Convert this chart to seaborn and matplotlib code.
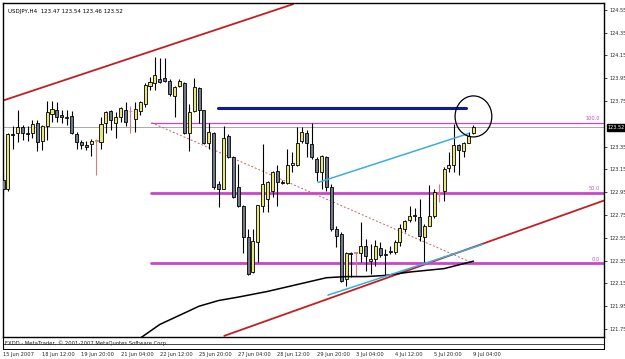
import matplotlib
matplotlib.use("Agg")
import matplotlib.pyplot as plt
from matplotlib.patches import Ellipse
from matplotlib.lines import Line2D
import seaborn as sns
import numpy as np
import pandas as pd

# ---------------- data (USDJPY H4 candles) ----------------
opens = [123.06, 122.975, 123.46, 123.47, 123.52, 123.47, 123.47, 123.56, 123.40, 123.53,
         123.64, 123.67, 123.63, 123.60, 123.62, 123.46, 123.39, 123.36, 123.37, 123.40,
         123.39, 123.56, 123.66, 123.56, 123.61, 123.675, 123.66, 123.59, 123.66, 123.72,
         123.88, 123.91, 123.94, 123.95, 123.93, 123.79, 123.88, 123.91, 123.47, 123.66,
         123.86, 123.67, 123.38, 123.47, 123.02, 122.98, 123.44, 123.255, 123.00, 122.825,
         122.56, 122.25, 122.51, 122.825, 122.89, 122.96, 123.14, 123.04, 123.035, 123.19,
         123.19, 123.40, 123.47, 123.37, 123.24, 123.125, 123.255, 123.00, 122.625, 122.58,
         122.19, 122.415, 122.42, 122.42, 122.475, 122.345, 122.36, 122.465, 122.40, 122.43,
         122.425, 122.51, 122.625, 122.71, 122.745, 122.73, 122.555, 122.65, 122.74, 122.95,
         122.96, 123.16, 123.185, 123.36, 123.31, 123.385, 123.47]
highs = [123.11, 123.47, 123.53, 123.67, 123.54, 123.53, 123.58, 123.58, 123.54, 123.75,
         123.75, 123.74, 123.67, 123.67, 123.66, 123.48, 123.41, 123.40, 123.42, 123.42,
         123.61, 123.66, 123.675, 123.65, 123.70, 123.74, 123.71, 123.74, 123.75, 123.91,
         123.96, 124.14, 124.13, 124.13, 123.94, 123.88, 123.94, 123.92, 123.72, 123.95,
         123.87, 123.675, 123.56, 123.48, 123.045, 123.53, 123.46, 123.27, 123.20, 122.84,
         122.625, 122.625, 122.84, 123.37, 123.045, 123.14, 123.19, 123.055, 123.325, 123.30,
         123.525, 123.52, 123.50, 123.56, 123.255, 123.28, 123.265, 123.02, 122.65, 122.60,
         122.43, 122.43, 122.43, 122.685, 122.54, 122.50, 122.53, 122.51, 122.45, 122.475,
         122.53, 122.675, 122.71, 122.825, 122.81, 122.89, 122.675, 123.01, 122.975, 123.02,
         123.17, 123.30, 123.55, 123.37, 123.395, 123.48, 123.54]
lows = [122.93, 122.96, 123.33, 123.395, 123.41, 123.40, 123.43, 123.31, 123.32, 123.41,
        123.57, 123.57, 123.56, 123.54, 123.46, 123.33, 123.33, 123.32, 123.27, 123.10,
        123.325, 123.47, 123.50, 123.43, 123.57, 123.53, 123.47, 123.48, 123.63, 123.70,
        123.85, 123.85, 123.91, 123.92, 123.79, 123.61, 123.87, 123.46, 123.31, 123.65,
        123.56, 123.37, 123.325, 122.975, 122.82, 122.975, 123.25, 122.90, 122.82, 122.415,
        122.225, 122.24, 122.34, 122.78, 122.78, 122.91, 122.825, 123.02, 123.02, 123.125,
        123.18, 123.38, 123.255, 123.245, 123.045, 122.975, 122.96, 122.61, 122.47, 122.16,
        122.125, 122.21, 122.21, 122.335, 122.255, 122.23, 122.30, 122.38, 122.22, 122.405,
        122.405, 122.475, 122.60, 122.685, 122.695, 122.52, 122.335, 122.65, 122.72, 122.86,
        122.87, 123.125, 123.125, 123.105, 123.26, 123.38, 123.46]
closes = [122.975, 123.465, 123.45, 123.525, 123.47, 123.465, 123.55, 123.39, 123.53, 123.65,
          123.68, 123.61, 123.61, 123.61, 123.47, 123.39, 123.36, 123.35, 123.40, 123.40,
          123.55, 123.65, 123.58, 123.61, 123.69, 123.57, 123.66, 123.68, 123.74, 123.89,
          123.92, 123.98, 123.92, 123.93, 123.81, 123.87, 123.93, 123.47, 123.65, 123.87,
          123.67, 123.38, 123.48, 123.00, 122.975, 123.43, 123.26, 122.905, 122.825, 122.56,
          122.23, 122.52, 122.835, 123.02, 123.04, 123.13, 123.04, 123.035, 123.185, 123.21,
          123.385, 123.48, 123.385, 123.255, 123.13, 123.265, 123.00, 122.625, 122.565, 122.17,
          122.42, 122.41, 122.42, 122.475, 122.39, 122.36, 122.475, 122.40, 122.41, 122.435,
          122.51, 122.64, 122.70, 122.74, 122.75, 122.565, 122.65, 122.745, 122.95, 122.95,
          123.15, 123.185, 123.36, 123.32, 123.385, 123.44, 123.52]

# moving average (read at selected bars)
ma_bars = [28, 32, 36, 40, 44, 48, 54, 60, 66, 70, 74, 78, 83, 90, 96]
ma_vals = [121.67, 121.79, 121.87, 121.95, 122.00, 122.03, 122.08, 122.14, 122.20,
           122.21, 122.21, 122.22, 122.25, 122.28, 122.345]

# drawn objects
fib_levels = [123.56, 122.945, 122.33]
fib_labels = ["100.0", "50.0", "0.0"]
fib_start_bar = 30.3
resistance_level = 123.69
resistance_bars = (43.9, 94.4)
upper_channel = [(-1.0, 123.74), (59.2, 124.60)]
lower_channel = [(45.15, 121.69), (130.0, 122.99)]
cyan_upper = [(64.3, 123.036), (95.0, 123.465)]
cyan_lower = [(66.3, 122.047), (98.0, 122.494)]
fib_diag = [(30.3, 123.56), (95.8, 122.33)]
circle_center = (96.0, 123.615)

yticks = [124.55, 124.35, 124.15, 123.95, 123.75, 123.35, 123.15, 122.95, 122.75,
          122.55, 122.35, 122.15, 121.95, 121.75]
xtick_labels = ["15 Jun 2007", "18 Jun 12:00", "19 Jun 20:00", "21 Jun 04:00",
                "22 Jun 12:00", "25 Jun 20:00", "27 Jun 04:00", "28 Jun 12:00",
                "29 Jun 20:00", "3 Jul 04:00", "4 Jul 12:00", "5 Jul 20:00", "9 Jul 04:00"]
title = "USDJPY,H4  123.47 123.54 123.46 123.52"
footer = "FXDD - MetaTrader, \u00a9 2001-2007 MetaQuotes Software Corp."

# ---------------- plotting ----------------
sns.set_style("white")
plt.rcParams["font.family"] = ["DejaVu Sans"]

W, H = 625, 359
fig = plt.figure(figsize=(W / 100, H / 100), dpi=100)
ax = fig.add_axes([3 / W, 1 - 337 / H, 601 / W, 334 / H])

n = len(opens)
x = np.arange(n)
o = np.array(opens); c = np.array(closes); h = np.array(highs); l = np.array(lows)
doji_red = o == c
bull = c > o

wick_colors = np.where(doji_red, "#e07878", "black")
ax.vlines(x, l, h, colors=wick_colors, lw=0.8, zorder=3)
body_bottom = np.minimum(o, c)
body_h = np.maximum(np.abs(c - o), 0.004)
body_col = np.where(bull, "#e6e67c", "#6f7a88")
body_col = np.where(doji_red, "#e07878", body_col)
edge_col = np.where(doji_red, "#e07878", "black")
ax.bar(x, body_h, bottom=body_bottom, width=0.62, color=body_col,
       edgecolor=edge_col, linewidth=0.6, zorder=4)

# moving average
ma_df = pd.DataFrame({"bar": ma_bars, "ma": ma_vals})
sns.lineplot(data=ma_df, x="bar", y="ma", color="black", lw=1.1, ax=ax, zorder=5)

# channel lines
for seg in (upper_channel, lower_channel):
    ax.plot([seg[0][0], seg[1][0]], [seg[0][1], seg[1][1]], color="#c41e1e", lw=1.3, zorder=2)

# fib
for i, lev in enumerate(fib_levels):
    ax.plot([fib_start_bar, 140], [lev, lev], color="#cc44cc",
            lw=0.9 if i == 0 else 2.0, zorder=2)
    ax.text(121.8, lev + 0.012, fib_labels[i], color="#cc44cc", fontsize=3.6,
            ha="right", va="bottom", zorder=6)
ax.plot([fib_diag[0][0], fib_diag[1][0]], [fib_diag[0][1], fib_diag[1][1]],
        color="#c86060", lw=0.7, ls=(0, (2, 2)), zorder=2)

# resistance (navy)
ax.plot(list(resistance_bars), [resistance_level] * 2, color="#0d1a9c", lw=2.2, zorder=6)

# cyan
for seg in (cyan_upper, cyan_lower):
    ax.plot([seg[0][0], seg[1][0]], [seg[0][1], seg[1][1]], color="#3aaee0", lw=1.1, zorder=5)

# current price line
ax.axhline(closes[-1], color="#a8a8a8", lw=0.7, zorder=1)

# circle
ax.add_patch(Ellipse(circle_center, 7.5, 0.36, fill=False, ec="black", lw=0.9, zorder=7))

ax.set_xlim(0.41, 122.64)
ax.set_ylim(121.68, 124.61)

ax.yaxis.tick_right()
ax.set_yticks(yticks)
ax.set_yticklabels([f"{v:.2f}" for v in yticks])
ax.tick_params(axis="y", length=2.5, width=0.6, pad=1.2, labelsize=3.6, direction="out")
ax.set_xticks(np.arange(0, 97, 8))
ax.set_xticklabels(xtick_labels, ha="left")
ax.tick_params(axis="x", length=0, pad=11, labelsize=3.7)
for s in ax.spines.values():
    s.set_color("black"); s.set_linewidth(1.0)
ax.set_xlabel(""); ax.set_ylabel("")

# current price box
ax.text(1.006, closes[-1], f"{closes[-1]:.2f}", transform=ax.get_yaxis_transform(),
        fontsize=3.6, color="white", va="center", ha="left",
        bbox=dict(boxstyle="square,pad=0.15", fc="black", ec="black"), zorder=8, clip_on=False)

ax.text(5 / 601, 1 - 6 / 334, title, transform=ax.transAxes, fontsize=4.0,
        va="top", ha="left", color="black")

# footer band
def fx(px): return px / W
def fy(py): return 1 - py / H
for py, col in ((343.5, "#444444"), (348.5, "black")):
    fig.add_artist(Line2D([fx(3), fx(604)], [fy(py), fy(py)], color=col, lw=0.7))
fig.add_artist(Line2D([fx(604), fx(604)], [fy(337), fy(349)], color="black", lw=0.8))
fig.add_artist(Line2D([fx(3), fx(3)], [fy(337), fy(349)], color="black", lw=0.8))
fig.text(fx(5), fy(343.5), footer, fontsize=3.8, va="center", ha="left", color="#222222")

fig.savefig("out.png", dpi=100)
